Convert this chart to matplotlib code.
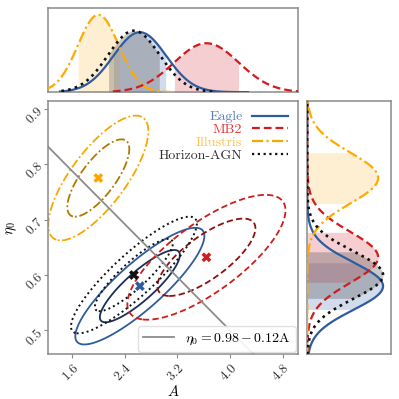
#!/usr/bin/env python3
import matplotlib

matplotlib.use("Agg")
import numpy as np
import matplotlib.pyplot as plt
from matplotlib.lines import Line2D

plt.rcParams["font.family"] = "cmr10"
plt.rcParams["mathtext.fontset"] = "cm"
plt.rcParams["axes.unicode_minus"] = False
plt.rcParams["axes.formatter.use_mathtext"] = True

# Posterior summaries (mean, width, correlation)
names = ["Eagle", "MB2", "Illustris", "Horizon-AGN"]
mean_A = [2.63, 3.64, 2.00, 2.54]
mean_eta = [0.580, 0.632, 0.775, 0.600]
sigma_A = [0.40, 0.49, 0.31, 0.39]
sigma_eta = [0.043, 0.046, 0.046, 0.043]
rho = [0.86, 0.75, 0.75, 0.88]
# range over which the 1D marginals are drawn
A_lo = [1.42, 2.22, 1.20, 1.44]
A_hi = [4.27, 5.10, 3.14, 3.74]

# line fit eta0 = a + b*A
fit_a, fit_b = 0.98, -0.12

xticks = [1.6, 2.4, 3.2, 4.0, 4.8]
yticks = [0.5, 0.6, 0.7, 0.8, 0.9]

line_col = ["#2f5c9e", "#d01c1c", "#f5a800", "#111111"]
inner_col = ["#1c2f5c", "#8e1010", "#b07a00", "#111111"]
text_col = ["#5b7fb8", "#e23a3a", "#ffc24a", "#333333"]
fill_col = ["#5f80b8", "#d8505a", "#ffc860", "#404040"]
styles = ["-", (0, (3.5, 1.8)), (0, (5, 1.5, 1, 1.5)), (0, (1, 1.6))]
chi2_levels = [2.30, 5.99]

xlim = (1.235, 5.03)
ylim = (0.457, 0.914)

fig = plt.figure(figsize=(3.99, 3.99), dpi=100)
ax = fig.add_axes([0.120, 0.112, 0.627, 0.635])
axt = fig.add_axes([0.120, 0.769, 0.627, 0.212])
axr = fig.add_axes([0.770, 0.112, 0.210, 0.635])

for a in (ax, axt, axr):
    for s in a.spines.values():
        s.set_color("#8a8a8a")
        s.set_linewidth(1.1)

# main panel: 2D contours
ga = np.linspace(0.8, 5.8, 400)
ge = np.linspace(0.35, 1.05, 400)
GA, GE = np.meshgrid(ga, ge)
for i in range(len(names)):
    dx = (GA - mean_A[i]) / sigma_A[i]
    dy = (GE - mean_eta[i]) / sigma_eta[i]
    chi2 = (dx**2 - 2 * rho[i] * dx * dy + dy**2) / (1 - rho[i] ** 2)
    ax.contour(GA, GE, chi2, levels=chi2_levels,
               colors=[inner_col[i], line_col[i]],
               linestyles=[styles[i], styles[i]],
               linewidths=1.4 if i == 3 else 1.3)
    ax.scatter(mean_A[i], mean_eta[i], marker="X", s=50,
               color=[line_col[i]] if i != 2 else ["#ffa500"],
               edgecolors="none", zorder=5)

xa = np.array(xlim)
ax.plot(xa, fit_a + fit_b * xa, color="#8c8c8c", lw=1.3, zorder=4)

ax.set_xlim(xlim)
ax.set_ylim(ylim)
ax.set_xticks(xticks)
ax.set_xticklabels([f"${t:.1f}$" for t in xticks], rotation=45,
                   ha="right", va="top", rotation_mode="anchor")
ax.set_yticks(yticks)
ax.set_yticklabels([f"${t:.1f}$" for t in yticks], rotation=45,
                   ha="right", va="center", rotation_mode="anchor")
ax.tick_params(labelsize=9.5, colors="#333333", length=3, color="#8a8a8a", pad=2)
ax.set_xlabel("$A$", fontsize=10.5, labelpad=0)
ax.set_ylabel(r"$\eta_0$", fontsize=10.5, labelpad=3)

handles = [Line2D([], [], color=line_col[i], ls=styles[i], lw=1.6)
           for i in range(len(names))]
leg = ax.legend(handles, names, loc="upper right", frameon=False,
                markerfirst=False, fontsize=10, labelspacing=0.0,
                handlelength=2.6, handletextpad=0.7, borderaxespad=0.3)
for t, c in zip(leg.get_texts(), text_col):
    t.set_color(c)
ax.add_artist(leg)
fit_h = Line2D([], [], color="#8c8c8c", lw=1.3)
ax.legend([fit_h], [r"$\eta_0 = 0.98 - 0.12\mathrm{A}$"], loc="lower right",
          fontsize=10, framealpha=0.9, edgecolor="#dddddd",
          handlelength=2.2, borderaxespad=0.15)

# top panel: marginal in A
peaks = []
for i in range(len(names)):
    x = np.linspace(A_lo[i], A_hi[i], 300)
    p = np.exp(-0.5 * ((x - mean_A[i]) / sigma_A[i]) ** 2) / (sigma_A[i] * np.sqrt(2 * np.pi))
    peaks.append(p.max())
    axt.plot(x, p, color=line_col[i] if i != 2 else "#ffaa00", ls=styles[i],
             lw=1.6 if i != 3 else 1.9, zorder=3)
    m = np.abs(x - mean_A[i]) <= sigma_A[i]
    axt.fill_between(x[m], 0, p[m], color=fill_col[i], alpha=0.28, lw=0)
axt.set_xlim(xlim)
axt.set_ylim(0, max(peaks) / 0.914)
axt.set_xticks([])
axt.set_yticks([])

# right panel: marginal in eta0
peaks = []
for i in range(len(names)):
    y = np.linspace(ylim[0], ylim[1], 300)
    p = np.exp(-0.5 * ((y - mean_eta[i]) / sigma_eta[i]) ** 2) / (sigma_eta[i] * np.sqrt(2 * np.pi))
    peaks.append(p.max())
    axr.plot(p, y, color=line_col[i] if i != 2 else "#ffaa00", ls=styles[i],
             lw=1.6 if i != 3 else 1.9, zorder=3)
    m = np.abs(y - mean_eta[i]) <= sigma_eta[i]
    axr.fill_betweenx(y[m], 0, p[m], color=fill_col[i], alpha=0.28, lw=0)
axr.set_ylim(ylim)
axr.set_xlim(0, max(peaks) / 0.905)
axr.set_xticks([])
axr.set_yticks([])

fig.savefig("out.png", dpi=100)
